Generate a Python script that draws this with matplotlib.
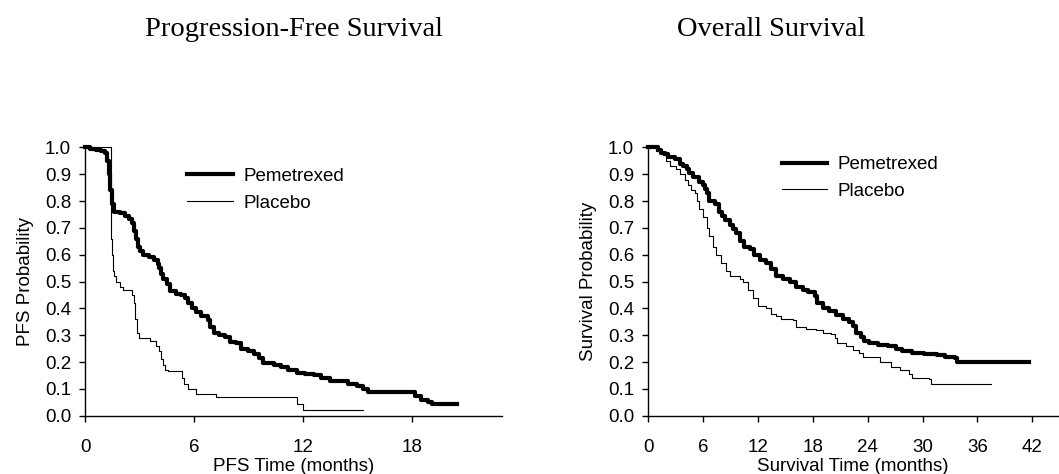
import matplotlib
matplotlib.use("Agg")
import matplotlib.pyplot as plt

plt.rcParams['font.family'] = ['Liberation Sans', 'DejaVu Sans']

# ---- data ----
pfs_pem_t = [0, 0.3, 0.6, 0.9, 1.1, 1.2, 1.3, 1.4, 1.5, 1.6, 1.9, 2.2, 2.4, 2.6, 2.7,
             2.8, 2.9, 3.05, 3.2, 3.5, 3.8, 4.0, 4.1, 4.2, 4.3, 4.5, 4.7, 5.0, 5.3, 5.5,
             5.7, 5.9, 6.1, 6.4, 6.8, 6.9, 7.1, 7.4, 7.7, 8.0, 8.3, 8.6, 9.0, 9.3, 9.6,
             9.8, 10.4, 10.8, 11.2, 11.7, 12.1, 12.6, 13.0, 13.5, 14.5, 15.0, 15.3, 15.6,
             18.2, 18.5, 18.9, 19.1, 20.5]
pfs_pem_s = [1.0, 0.995, 0.99, 0.985, 0.98, 0.95, 0.90, 0.84, 0.79, 0.76, 0.755, 0.745, 0.735,
             0.72, 0.69, 0.66, 0.63, 0.615, 0.60, 0.59, 0.58, 0.565, 0.55, 0.53, 0.51, 0.49,
             0.465, 0.455, 0.45, 0.44, 0.42, 0.40, 0.385, 0.37, 0.355, 0.33, 0.31, 0.30,
             0.295, 0.275, 0.27, 0.25, 0.24, 0.23, 0.215, 0.195, 0.19, 0.18, 0.17, 0.16,
             0.155, 0.15, 0.14, 0.13, 0.12, 0.11, 0.10, 0.09, 0.075, 0.06, 0.05, 0.045, 0.045]

pfs_pla_t = [0, 1.42, 1.45, 1.48, 1.52, 1.56, 1.6, 1.7, 1.9, 2.1, 2.6, 2.7, 2.78, 2.86, 2.95,
             3.6, 3.9, 4.1, 4.2, 4.3, 4.4, 4.6, 5.35, 5.45, 5.7, 6.1, 6.3, 7.2, 11.7, 12.0, 15.3]
pfs_pla_s = [1.0, 0.77, 0.66, 0.60, 0.57, 0.54, 0.52, 0.50, 0.48, 0.47, 0.45, 0.42, 0.36,
             0.31, 0.29, 0.28, 0.26, 0.24, 0.21, 0.19, 0.17, 0.165, 0.14, 0.12, 0.10, 0.08,
             0.08, 0.07, 0.045, 0.02, 0.02]

os_pem_t = [0, 1.1, 1.4, 1.8, 2.2, 2.9, 3.45, 3.8, 4.2, 4.5, 4.9, 5.6, 6.0, 6.2, 6.4, 6.7,
            7.3, 7.8, 8.1, 8.4, 8.9, 9.3, 9.6, 10.0, 10.5, 11.1, 11.6, 12.2, 12.9, 13.45,
            14.0, 14.7, 15.5, 16.2, 16.9, 17.45, 18.2, 18.5, 19.1, 19.8, 20.5, 21.3, 22.0,
            22.4, 22.7, 23.3, 23.6, 24.2, 25.1, 26.2, 27.1, 27.8, 28.9, 30.2, 31.6, 32.5,
            33.6, 33.8, 41.6]
os_pem_s = [1.0, 0.99, 0.98, 0.975, 0.965, 0.955, 0.94, 0.93, 0.92, 0.905, 0.89, 0.87, 0.86,
            0.845, 0.83, 0.80, 0.79, 0.76, 0.745, 0.73, 0.71, 0.695, 0.68, 0.65, 0.63, 0.62,
            0.60, 0.58, 0.57, 0.545, 0.52, 0.51, 0.50, 0.48, 0.47, 0.46, 0.445, 0.42, 0.40,
            0.39, 0.375, 0.36, 0.35, 0.335, 0.31, 0.295, 0.28, 0.27, 0.265, 0.26, 0.25, 0.24,
            0.235, 0.23, 0.225, 0.22, 0.215, 0.20, 0.20]

os_pla_t = [0, 0.9, 1.6, 2.0, 2.4, 3.1, 3.45, 4.0, 4.4, 4.7, 5.1, 5.3, 5.6, 6.0, 6.4, 6.7,
            7.1, 7.45, 8.0, 8.5, 8.9, 10.0, 10.4, 10.9, 11.5, 12.0, 12.9, 13.45, 14.0, 14.5,
            15.8, 16.2, 17.3, 18.4, 19.1, 20.0, 20.4, 20.7, 21.6, 22.4, 23.1, 23.5, 24.7,
            25.3, 26.2, 26.5, 27.5, 28.5, 28.9, 30.7, 30.9, 37.5]
os_pla_s = [1.0, 0.985, 0.97, 0.95, 0.93, 0.92, 0.90, 0.88, 0.86, 0.84, 0.83, 0.80, 0.77,
            0.74, 0.70, 0.67, 0.63, 0.60, 0.57, 0.54, 0.52, 0.51, 0.50, 0.47, 0.44, 0.41,
            0.40, 0.38, 0.37, 0.36, 0.355, 0.33, 0.325, 0.32, 0.31, 0.305, 0.29, 0.27, 0.26,
            0.245, 0.235, 0.22, 0.22, 0.20, 0.20, 0.18, 0.17, 0.155, 0.14, 0.135, 0.12, 0.12]

y_ticks = [0.0, 0.1, 0.2, 0.3, 0.4, 0.5, 0.6, 0.7, 0.8, 0.9, 1.0]
pfs_xticks = [0, 6, 12, 18]
os_xticks = [0, 6, 12, 18, 24, 30, 36, 42]
labels = ["Pemetrexed", "Placebo"]

FS = 13.5

fig = plt.figure(figsize=(10.59, 4.74), dpi=100)
ax1 = fig.add_axes([0.0803, 0.123, 0.394, 0.566])
ax2 = fig.add_axes([0.612, 0.123, 0.387, 0.566])

def style(ax, xmax, xticks, xlabel, ylabel):
    ax.set_xlim(0, xmax)
    ax.set_ylim(0, 1.0)
    ax.set_xticks(xticks)
    ax.set_yticks(y_ticks)
    ax.set_yticklabels([f"{v:.1f}" for v in y_ticks])
    for sp in ['top', 'right']:
        ax.spines[sp].set_visible(False)
    for sp in ['left', 'bottom']:
        ax.spines[sp].set_linewidth(1.0)
    ax.tick_params(direction='out', length=4, width=1.0, labelsize=FS)
    ax.tick_params(axis='y', pad=6)
    ax.tick_params(axis='x', pad=12.5)
    ax.set_xlabel(xlabel, fontsize=FS, labelpad=2)
    ax.set_ylabel(ylabel, fontsize=FS, labelpad=8)

leg_kw = dict(loc='upper left', frameon=False, fontsize=FS, handlelength=2.45,
              handletextpad=0.55, labelspacing=0.52, borderaxespad=0, borderpad=0)

ax1.step(pfs_pem_t, pfs_pem_s, where='post', color='black', lw=3.0, clip_on=False, label=labels[0])
ax1.step(pfs_pla_t, pfs_pla_s, where='post', color='black', lw=0.8, clip_on=False, label=labels[1])
style(ax1, 23.0, pfs_xticks, "PFS Time (months)", "PFS Probability")
ax1.legend(bbox_to_anchor=(0.245, 0.925), **leg_kw)

ax2.step(os_pem_t, os_pem_s, where='post', color='black', lw=3.0, clip_on=False, label=labels[0])
ax2.step(os_pla_t, os_pla_s, where='post', color='black', lw=0.8, clip_on=False, label=labels[1])
style(ax2, 44.8, os_xticks, "Survival Time (months)", "Survival Probability")
ax2.legend(bbox_to_anchor=(0.3255, 0.968), **leg_kw)

fig.text(0.278, 0.925, "Progression-Free Survival", ha='center', va='baseline',
         fontsize=20.5, family=['Liberation Serif', 'DejaVu Serif'])
fig.text(0.7285, 0.925, "Overall Survival", ha='center', va='baseline',
         fontsize=20.5, family=['Liberation Serif', 'DejaVu Serif'])

fig.savefig("out.png", dpi=100)
